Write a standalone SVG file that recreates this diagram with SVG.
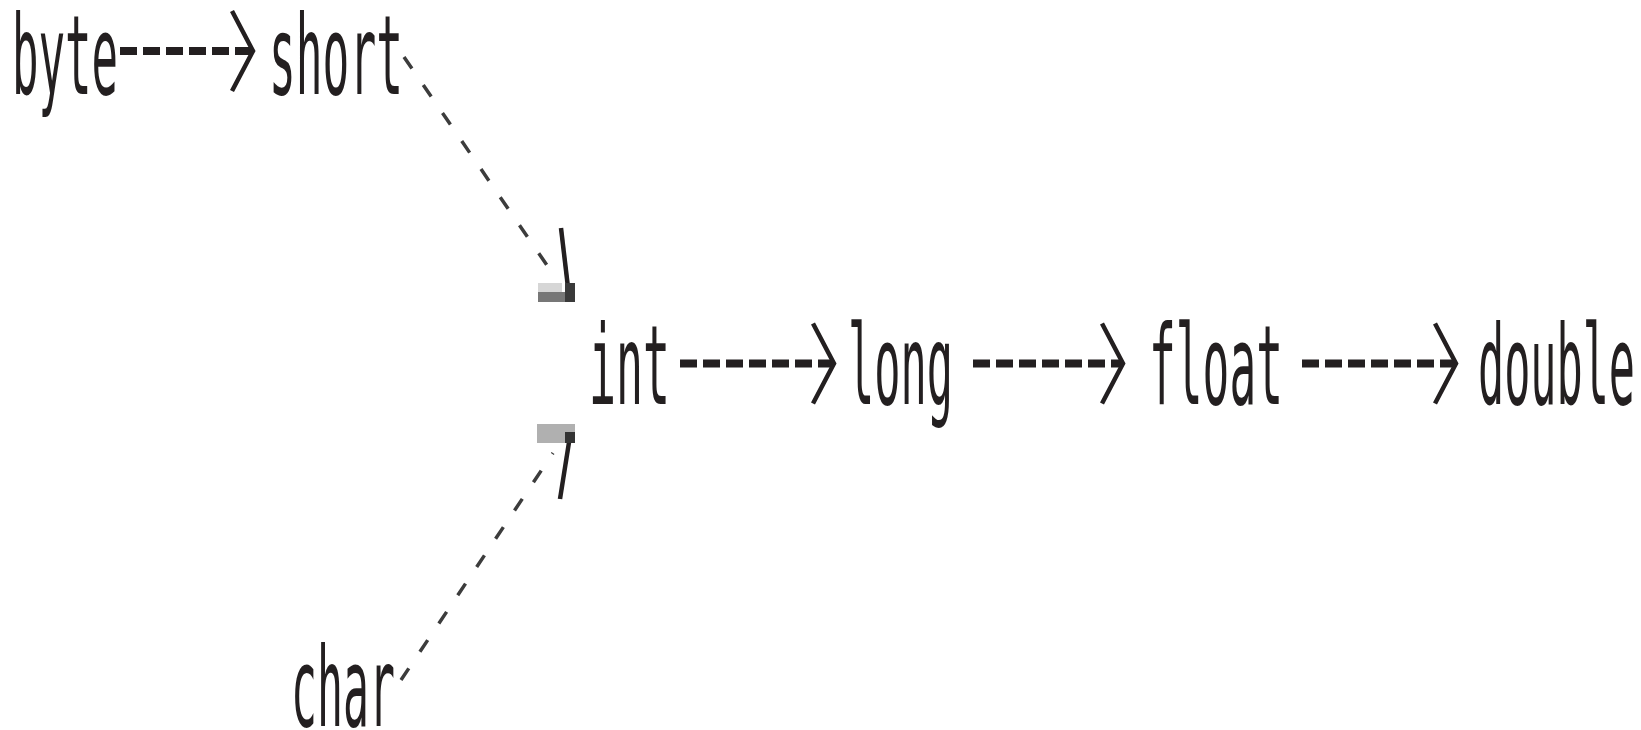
<svg xmlns="http://www.w3.org/2000/svg" width="1641" height="730" viewBox="0 0 1641 730">
  <style>
    .label { font-family: "DejaVu Sans Mono", "Liberation Mono", monospace; font-size: 110px; fill: #231f20; }
    .dash { fill: none; stroke: #231f20; stroke-width: 8; stroke-dasharray: 17 6; }
    .dots { fill: none; stroke: #3c3c3c; stroke-width: 3.5; stroke-dasharray: 14 20; }
    .head { fill: none; stroke: #231f20; stroke-width: 4.5; stroke-linecap: butt; }
  </style>
  <defs>
    <marker id="chevron" viewBox="0 0 26 84" markerWidth="26" markerHeight="84" markerUnits="userSpaceOnUse" refX="23" refY="42" orient="auto">
      <path d="M2,2 L23,42 L2,82" fill="none" stroke="#231f20" stroke-width="4.5"/>
    </marker>
  </defs>
  <rect width="1641" height="730" fill="#ffffff"/>

  <!-- type nodes -->
  <g id="node-byte"><text class="label" x="12" y="94" textLength="106" lengthAdjust="spacingAndGlyphs">byte</text></g>
  <g id="node-short"><text class="label" x="269" y="94" textLength="134" lengthAdjust="spacingAndGlyphs">short</text></g>
  <g id="node-char"><text class="label" x="291" y="726" textLength="104" lengthAdjust="spacingAndGlyphs">char</text></g>
  <g id="node-int"><text class="label" x="589" y="404" textLength="81" lengthAdjust="spacingAndGlyphs">int</text></g>
  <g id="node-long"><text class="label" x="848" y="404" textLength="105" lengthAdjust="spacingAndGlyphs">long</text></g>
  <g id="node-float"><text class="label" x="1149" y="404" textLength="134" lengthAdjust="spacingAndGlyphs">float</text></g>
  <g id="node-double"><text class="label" x="1478" y="404" textLength="157" lengthAdjust="spacingAndGlyphs">double</text></g>

  <!-- widening conversions -->
  <g id="connectors">
    <line class="dash" x1="120" y1="51" x2="253" y2="51" marker-end="url(#chevron)"/>
    <line class="dash" x1="680" y1="363.5" x2="834" y2="363.5" marker-end="url(#chevron)"/>
    <line class="dash" x1="973" y1="363.5" x2="1123" y2="363.5" marker-end="url(#chevron)"/>
    <line class="dash" x1="1302" y1="363.5" x2="1456" y2="363.5" marker-end="url(#chevron)"/>

    <!-- short to int -->
    <line class="dots" x1="404" y1="57" x2="553" y2="274"/>
    <path class="head" d="M561,228 L569,296"/>
    <rect x="538" y="283" width="24" height="9" fill="#d6d6d6"/>
    <rect x="538" y="292" width="37" height="10" fill="#777777"/>
    <rect x="565" y="283" width="10" height="19" fill="#3a3a3a"/>

    <!-- char to int -->
    <line class="dots" x1="401" y1="680" x2="553" y2="453"/>
    <path class="head" d="M570,436 L560,499"/>
    <rect x="537" y="424" width="38" height="19" fill="#b0b0b0"/>
    <rect x="565" y="432" width="10" height="11" fill="#333333"/>
  </g>
</svg>
